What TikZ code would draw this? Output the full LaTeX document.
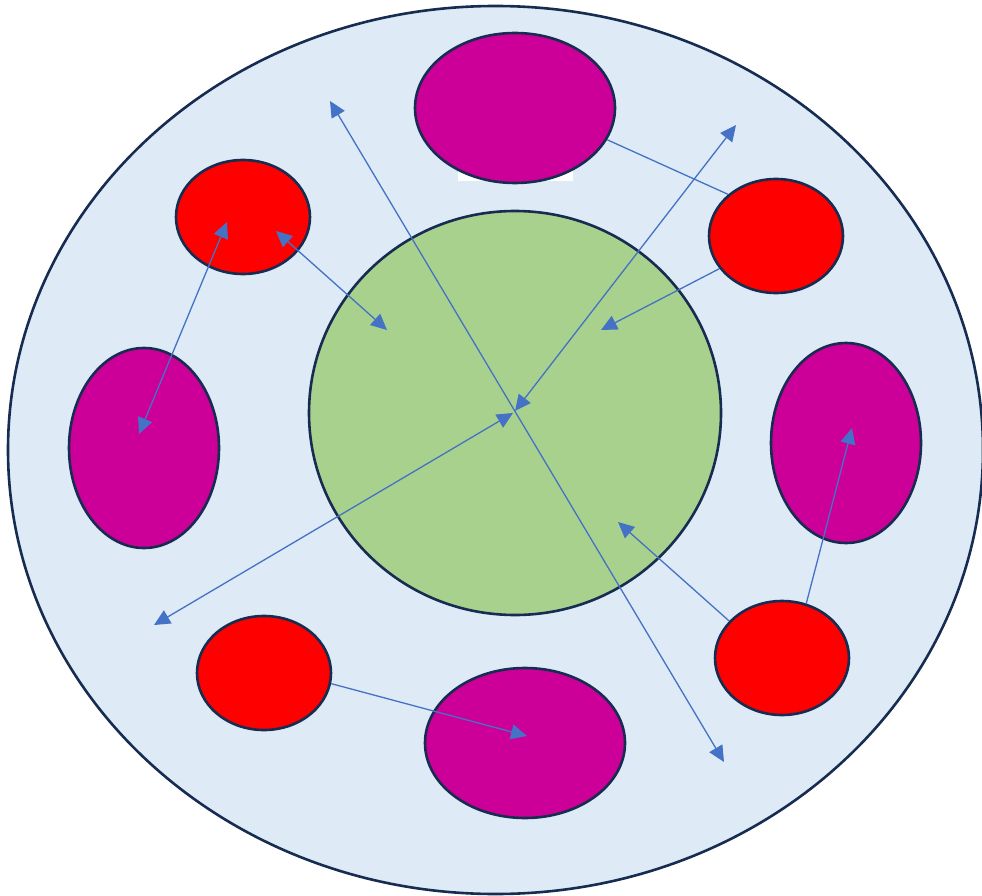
\documentclass[tikz,border=0pt]{standalone}
\usetikzlibrary{arrows.meta,shapes.geometric}
\definecolor{bgblue}{HTML}{DEEAF6}
\definecolor{greenfill}{HTML}{A9D18E}
\definecolor{magfill}{HTML}{CC0099}
\definecolor{redfill}{HTML}{FF0000}
\definecolor{edgecol}{HTML}{172C51}
\definecolor{arrcol}{HTML}{4472C4}
\tikzset{
  blob/.style={ellipse, draw=edgecol, line width=2.6pt, inner sep=0pt},
  magblob/.style={blob, fill=magfill, minimum width=200pt, minimum height=150pt},
  magblobv/.style={blob, fill=magfill, minimum width=150pt, minimum height=200pt},
  redblob/.style={blob, fill=redfill, minimum width=134pt, minimum height=114pt},
  conn/.style={draw=arrcol, line width=1.3pt},
  arr/.style={conn, -{Triangle[length=16pt,width=15pt]}},
  darr/.style={conn, {Triangle[length=16pt,width=15pt]}-{Triangle[length=16pt,width=15pt]}}
}
\begin{document}
\begin{tikzpicture}[x=1pt,y=-1pt]
\useasboundingbox (0,0) rectangle (982,896);
\node[blob, fill=bgblue, minimum width=975pt, minimum height=888pt] (outer) at (495.5,450) {};
\fill[white] (458,160) rectangle (573,181);
\node[magblob] (mtop) at (515,108) {};
\node[magblobv] (mleft) at (144,448) {};
\node[magblobv] (mright) at (846,443) {};
\node[magblob] (mbot) at (525,743) {};
\node[redblob] (rtl) at (243,217) {};
\node[redblob] (rtr) at (776,236) {};
\node[redblob] (rbl) at (264,673) {};
\node[redblob] (rbr) at (782,658) {};
\node[blob, fill=greenfill, minimum width=412pt, minimum height=404pt] (core) at (515,413) {};
% free ends
\coordinate (pA) at (330,101);
\coordinate (pB) at (724,762);
\coordinate (pC) at (736,125);
\coordinate (pD) at (515,411);
\coordinate (pE) at (154,625);
\coordinate (pF) at (513,413);
\coordinate (pG) at (227,222);
\coordinate (pH) at (139,434);
\coordinate (pI) at (276,231);
\coordinate (pJ) at (387,330);
\coordinate (pK) at (601,330);
\coordinate (pL) at (618,522);
\coordinate (pM) at (852,428);
\coordinate (pN) at (527,736);
% connectors
\draw[darr] (pA) -- (pB);
\draw[darr] (pC) -- (pD);
\draw[darr] (pE) -- (pF);
\draw[darr] (pG) -- (pH);
\draw[darr] (pI) -- (pJ);
\draw[conn] (mtop.-19.2) -- (rtr.139.5);
\draw[arr] (rtr.210) -- (pK);
\draw[arr] (rbr.145.8) -- (pL);
\draw[arr] (rbr.66.4) -- (pM);
\draw[arr] (rbl.-9.2) -- (pN);
\end{tikzpicture}
\end{document}
